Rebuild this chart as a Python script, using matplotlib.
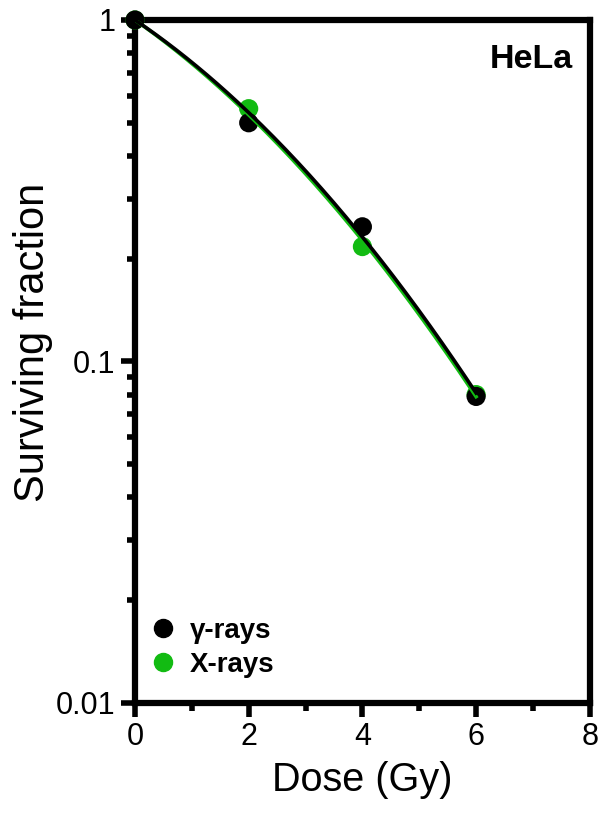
import matplotlib
matplotlib.use("Agg")
import matplotlib.pyplot as plt
import numpy as np
from matplotlib.lines import Line2D
from matplotlib.ticker import LogLocator, FixedLocator, NullFormatter

plt.rcParams['font.family'] = ['Liberation Sans', 'DejaVu Sans']

dose = [0, 2, 4, 6]
sf_gamma = [1.0, 0.50, 0.248, 0.079]
sf_xray = [1.0, 0.55, 0.217, 0.080]

gamma_color = 'black'
xray_color = '#12bb12'


def lq_fit(d, s):
    # ln S = -a*D - b*D^2, least squares through the origin
    d = np.asarray(d, float)
    A = np.column_stack([d, d ** 2])
    coef, *_ = np.linalg.lstsq(A, -np.log(s), rcond=None)
    return coef


fig = plt.figure(figsize=(6, 8.16), dpi=100)
ax = fig.add_axes([0.225, 0.1385, 0.758, 0.837])

ax.scatter(dose, sf_xray, s=190, color=xray_color, zorder=3, clip_on=False, edgecolors='none')
ax.scatter(dose, sf_gamma, s=190, color=gamma_color, zorder=3, clip_on=False, edgecolors='none')

dd = np.linspace(0, 6, 200)
a, b = lq_fit(dose, sf_xray)
ax.plot(dd, np.exp(-a * dd - b * dd ** 2), color=xray_color, lw=2.6, zorder=4)
a, b = lq_fit(dose, sf_gamma)
ax.plot(dd, np.exp(-a * dd - b * dd ** 2), color=gamma_color, lw=2.6, zorder=5)

ax.set_yscale('log')
ax.set_xlim(0, 8)
ax.set_ylim(0.01, 1)
ax.set_xticks([0, 2, 4, 6, 8])
ax.xaxis.set_minor_locator(FixedLocator([1, 3, 5, 7]))
ax.set_yticks([0.01, 0.1, 1])
ax.set_yticklabels(['0.01', '0.1', '1'])
ax.yaxis.set_minor_locator(LogLocator(base=10, subs=np.arange(2, 10)))
ax.yaxis.set_minor_formatter(NullFormatter())

for sp in ax.spines.values():
    sp.set_linewidth(4.5)
ax.tick_params(which='major', direction='out', length=10, width=4, labelsize=22, pad=4)
ax.tick_params(which='minor', direction='out', length=6, width=4)

ax.set_xlabel('Dose (Gy)', fontsize=28.5, labelpad=6)
ax.set_ylabel('Surviving fraction', fontsize=30)
ax.yaxis.set_label_coords(-0.18, 0.528)

ax.text(0.963, 0.965, 'HeLa', transform=ax.transAxes, ha='right', va='top',
        fontsize=24.5, fontweight='bold')

handles = [Line2D([], [], ls='none', marker='o', ms=13, color=gamma_color),
           Line2D([], [], ls='none', marker='o', ms=13, color=xray_color)]
ax.legend(handles, ['\u03b3-rays', 'X-rays'], loc='lower left',
          bbox_to_anchor=(-0.03, 0.0), frameon=False, handletextpad=0.35,
          prop={'size': 20, 'weight': 'bold'}, labelspacing=0.3, handlelength=1.2)

fig.savefig('out.png', dpi=100)
